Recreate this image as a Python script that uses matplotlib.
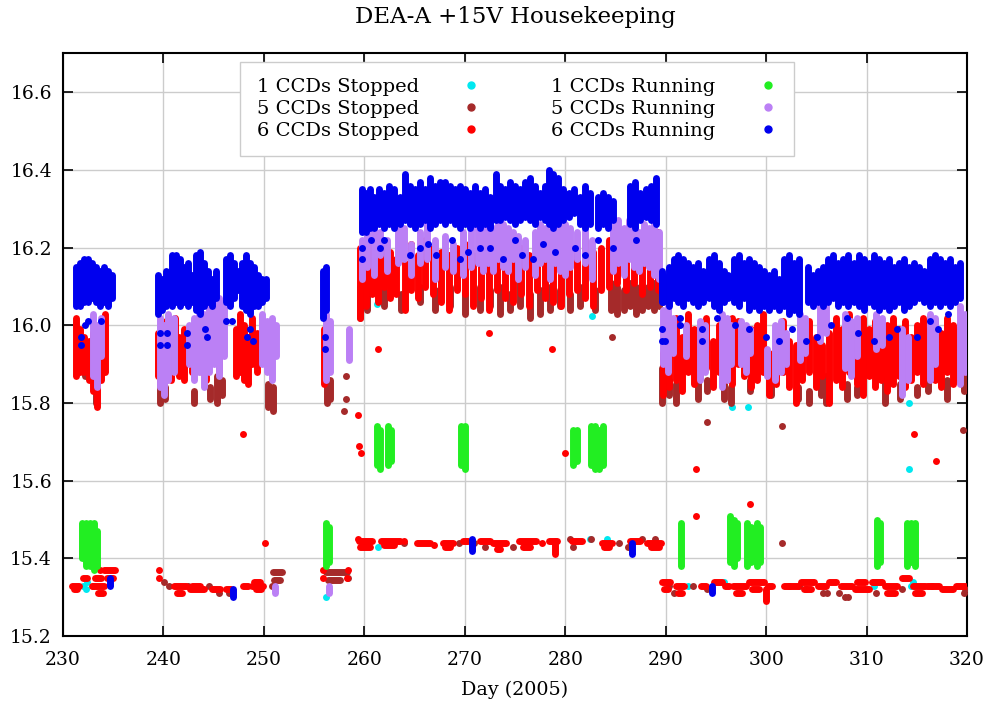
import matplotlib
matplotlib.use("Agg")
import matplotlib.pyplot as plt
from matplotlib.lines import Line2D

# ---- data ----
# cols = vertical runs of dots (day, low, high), runs = horizontal runs (day0, day1, value), dots = single points (day, value)

cyan_dots = [(232.0, 15.33), (232.3, 15.32), (232.4, 15.34), (256.2, 15.30), (261.3, 16.055), (261.4, 15.43),
             (282.5, 15.45), (284.2, 15.45), (282.7, 16.025), (291.6, 15.91), (296.6, 15.79), (298.2, 15.79),
             (314.2, 15.80), (314.2, 15.63), (292.2, 15.33), (295.8, 15.34), (310.7, 15.33), (314.4, 15.33),
             (314.6, 15.34)]

brown_cols = [(232.2, 15.87, 15.89), (233.3, 15.80, 15.84),
              (239.7, 15.80, 15.86), (240.2, 15.81, 15.84), (243.0, 15.80, 15.83), (244.6, 15.81, 15.84),
              (245.3, 15.80, 15.87), (245.8, 15.82, 15.86), (250.4, 15.79, 15.85), (250.9, 15.78, 15.84),
              (256.3, 15.80, 15.85), (256.6, 15.81, 15.86),
              (259.6, 16.02, 16.10), (260.3, 16.04, 16.08), (262.0, 16.05, 16.09), (263.6, 16.04, 16.08),
              (265.5, 16.06, 16.10), (267.0, 16.04, 16.09), (268.5, 16.05, 16.10), (270.0, 16.03, 16.08),
              (271.5, 16.04, 16.10), (272.5, 16.05, 16.09), (273.5, 16.03, 16.10), (274.5, 16.04, 16.08),
              (275.5, 16.05, 16.11), (276.5, 16.02, 16.08), (277.5, 16.03, 16.09), (278.5, 16.04, 16.10),
              (279.5, 16.05, 16.09), (280.5, 16.04, 16.08), (281.5, 16.05, 16.10), (283.0, 16.04, 16.09),
              (284.6, 16.04, 16.11), (285.2, 16.03, 16.10), (285.8, 16.04, 16.09), (286.4, 16.05, 16.11),
              (287.0, 16.03, 16.10), (287.6, 16.04, 16.09), (288.2, 16.05, 16.10), (288.8, 16.04, 16.11),
              (289.3, 16.05, 16.09),
              (289.6, 15.80, 15.89), (290.3, 15.82, 15.86), (291.0, 15.80, 15.85), (293.2, 15.81, 15.88),
              (294.1, 15.83, 15.86), (295.8, 15.81, 15.87), (296.5, 15.80, 15.84), (298.4, 15.83, 15.86),
              (300.5, 15.82, 15.85), (303.2, 15.81, 15.84), (304.3, 15.80, 15.83), (305.5, 15.82, 15.86),
              (306.0, 15.80, 15.87), (308.1, 15.81, 15.85), (309.0, 15.82, 15.84), (311.8, 15.80, 15.86),
              (313.3, 15.81, 15.85), (315.0, 15.82, 15.84), (316.1, 15.83, 15.88), (318.0, 15.81, 15.86),
              (319.7, 15.83, 15.88)]
brown_runs = [(250.9, 251.8, 15.365), (251.0, 251.6, 15.345), (256.2, 258.3, 15.365), (256.4, 257.6, 15.345)]
brown_dots = [(233.0, 15.33), (240.1, 15.34), (240.6, 15.33), (242.4, 15.33), (244.5, 15.33), (245.5, 15.31),
              (246.5, 15.31), (250.8, 15.33), (258.4, 15.35), (258.2, 15.87), (258.2, 15.81), (258.0, 15.78),
              (284.7, 15.97), (269.4, 15.44), (272.0, 15.43), (274.8, 15.43), (276.1, 15.44), (280.5, 15.45),
              (280.8, 15.43), (282.6, 15.45), (285.4, 15.44), (286.2, 15.43), (287.6, 15.45), (288.9, 15.45),
              (270.9, 15.44), (263.9, 15.44), (294.1, 15.75), (301.6, 15.74), (319.6, 15.73), (301.6, 15.44),
              (290.3, 15.33), (290.8, 15.31), (292.7, 15.33), (294.1, 15.32), (302.3, 15.33), (303.3, 15.33),
              (304.0, 15.32), (305.7, 15.31), (306.1, 15.31), (307.3, 15.31), (307.9, 15.30), (308.2, 15.30),
              (310.9, 15.31), (313.5, 15.32), (316.5, 15.33), (319.7, 15.31), (319.8, 15.32)]

red_cols = [(231.3, 15.87, 16.02), (231.7, 15.88, 15.99), (232.1, 15.88, 15.97), (232.6, 15.86, 15.96),
            (233.0, 15.83, 15.98), (233.4, 15.79, 15.95), (233.8, 15.86, 16.00), (234.2, 15.88, 16.03),
            (239.5, 15.87, 15.98), (239.9, 15.85, 16.00), (240.3, 15.88, 16.01), (240.7, 15.86, 15.96),
            (241.1, 15.89, 16.02), (241.5, 15.87, 15.97), (242.0, 15.86, 15.99), (242.8, 15.88, 15.98),
            (243.3, 15.90, 16.01), (243.8, 15.88, 16.00), (244.2, 15.86, 15.96), (244.6, 15.90, 15.98),
            (245.5, 15.88, 15.95), (247.2, 15.87, 15.99), (247.6, 15.88, 16.03), (248.0, 15.86, 16.00),
            (248.4, 15.85, 15.97), (248.8, 15.90, 16.02), (249.3, 15.88, 15.98), (249.8, 15.92, 15.96),
            (256.0, 15.85, 15.99),
            (259.6, 16.02, 16.20), (260.2, 16.05, 16.18), (260.8, 16.08, 16.22), (261.4, 16.06, 16.17),
            (262.0, 16.10, 16.20), (262.6, 16.07, 16.19), (263.2, 16.08, 16.17), (264.0, 16.04, 16.16),
            (264.6, 16.09, 16.21), (265.3, 16.07, 16.18), (266.0, 16.10, 16.22), (266.8, 16.08, 16.20),
            (267.6, 16.06, 16.19), (268.4, 16.04, 16.18), (269.2, 16.09, 16.20), (270.0, 16.08, 16.21),
            (270.8, 16.05, 16.18), (271.6, 16.07, 16.22), (272.4, 16.04, 16.20), (273.2, 16.09, 16.21),
            (274.0, 16.07, 16.19), (274.8, 16.06, 16.22), (275.6, 16.08, 16.20), (276.4, 16.05, 16.18),
            (277.2, 16.09, 16.21), (278.0, 16.07, 16.20), (278.8, 16.06, 16.22), (279.6, 16.05, 16.19),
            (280.4, 16.08, 16.21), (281.2, 16.09, 16.20), (282.0, 16.07, 16.22), (282.8, 16.05, 16.19),
            (283.6, 16.09, 16.20), (284.4, 16.10, 16.22), (285.2, 16.11, 16.19), (286.0, 16.09, 16.21),
            (286.8, 16.11, 16.23), (287.6, 16.08, 16.20), (288.4, 16.10, 16.22), (289.2, 16.09, 16.24),
            (289.7, 15.82, 15.93), (290.3, 15.84, 15.95), (291.0, 15.86, 16.02), (291.6, 15.83, 15.97),
            (292.2, 15.88, 16.03), (292.8, 15.85, 15.99), (293.4, 15.87, 15.98), (294.0, 15.89, 16.02),
            (294.7, 15.84, 15.96), (295.3, 15.88, 16.00), (296.0, 15.86, 15.98), (296.6, 15.85, 16.02),
            (297.2, 15.90, 16.01), (297.8, 15.87, 15.97), (298.5, 15.84, 15.99), (299.1, 15.86, 16.00),
            (299.7, 15.88, 16.03), (300.3, 15.82, 15.93), (301.0, 15.85, 15.98), (301.7, 15.88, 16.01),
            (302.3, 15.84, 15.96), (303.0, 15.80, 15.95), (303.6, 15.86, 15.99), (304.3, 15.88, 16.01),
            (305.0, 15.84, 15.97), (305.6, 15.87, 15.95), (306.3, 15.80, 15.98), (307.0, 15.86, 16.02),
            (307.6, 15.84, 15.99), (308.3, 15.88, 16.03), (309.0, 15.85, 16.00), (309.6, 15.82, 16.02),
            (310.2, 15.87, 15.99), (310.8, 15.84, 16.01), (311.4, 15.86, 15.98), (312.0, 15.83, 16.00),
            (312.6, 15.85, 16.02), (313.2, 15.87, 15.99), (313.8, 15.84, 16.01), (314.4, 15.86, 15.97),
            (315.0, 15.88, 16.00), (315.6, 15.85, 16.02), (316.2, 15.87, 15.99), (316.8, 15.86, 16.01),
            (317.4, 15.84, 15.98), (318.0, 15.88, 16.02), (318.6, 15.85, 16.00), (319.2, 15.86, 15.99),
            (319.8, 15.88, 15.97), (279.0, 15.41, 15.445), (300.0, 15.29, 15.32)]
red_runs = [(230.9, 231.6, 15.33), (231.1, 231.4, 15.32), (232.0, 232.4, 15.35), (232.9, 234.1, 15.33),
            (233.2, 233.8, 15.35), (233.5, 234.0, 15.31), (234.1, 235.2, 15.37), (234.4, 235.0, 15.35),
            (241.0, 242.2, 15.33), (241.3, 241.8, 15.31), (242.6, 244.0, 15.32), (242.8, 243.6, 15.33),
            (244.8, 245.6, 15.32), (246.2, 246.7, 15.32), (247.9, 248.4, 15.33), (248.8, 249.9, 15.33),
            (249.0, 249.6, 15.34), (249.2, 249.7, 15.32),
            (259.5, 260.8, 15.445), (259.6, 260.6, 15.43), (261.7, 263.5, 15.445), (262.0, 263.0, 15.435),
            (265.2, 266.5, 15.44), (267.8, 268.8, 15.44), (268.0, 268.5, 15.43), (269.8, 270.3, 15.445),
            (271.5, 272.5, 15.445), (272.8, 274.1, 15.44), (273.2, 273.5, 15.425), (275.4, 277.1, 15.445),
            (275.8, 276.5, 15.43), (278.4, 279.2, 15.445), (280.7, 281.7, 15.445), (283.7, 284.7, 15.44),
            (283.9, 284.4, 15.43), (286.4, 287.4, 15.445), (288.1, 289.5, 15.44), (288.5, 289.3, 15.43),
            (289.6, 290.4, 15.34), (289.8, 290.2, 15.32), (291.0, 291.8, 15.33), (291.2, 291.6, 15.31),
            (293.5, 294.0, 15.33), (294.8, 295.6, 15.34), (295.9, 296.3, 15.33), (296.7, 298.0, 15.33),
            (297.0, 297.6, 15.31), (298.3, 299.8, 15.34), (298.6, 299.3, 15.32), (300.2, 300.6, 15.33),
            (301.8, 303.2, 15.33), (303.5, 304.8, 15.34), (303.8, 304.5, 15.32), (305.2, 306.0, 15.33),
            (306.3, 307.0, 15.34), (307.5, 308.5, 15.33), (308.8, 310.2, 15.32), (309.0, 309.8, 15.34),
            (310.5, 311.5, 15.34), (311.8, 313.0, 15.33), (312.0, 312.8, 15.31), (313.5, 314.2, 15.35),
            (314.6, 315.8, 15.33), (314.8, 315.5, 15.31), (316.0, 317.2, 15.33), (317.5, 318.6, 15.32),
            (318.9, 319.8, 15.33)]
red_dots = [(233.7, 15.37), (239.6, 15.37), (239.6, 15.35), (247.9, 15.72), (250.1, 15.44), (255.9, 15.37),
            (255.9, 15.35), (258.4, 15.37), (258.3, 15.35), (259.4, 15.45), (259.4, 15.77), (259.5, 15.69),
            (259.7, 15.67), (261.4, 15.94), (272.4, 15.98), (278.7, 15.94), (280.0, 15.67), (263.9, 15.445),
            (266.9, 15.435), (277.7, 15.44), (293.0, 15.63), (314.7, 15.72), (316.9, 15.65), (293.0, 15.51),
            (298.4, 15.54)]

green_cols = [(231.9, 15.40, 15.49), (232.3, 15.38, 15.49), (232.7, 15.38, 15.49), (233.1, 15.37, 15.49),
              (233.4, 15.38, 15.47), (256.2, 15.38, 15.49), (256.5, 15.39, 15.48),
              (261.3, 15.64, 15.74), (261.6, 15.63, 15.73), (262.4, 15.64, 15.74), (262.7, 15.65, 15.73),
              (269.6, 15.64, 15.74), (270.0, 15.63, 15.74), (280.8, 15.64, 15.73), (281.2, 15.65, 15.73),
              (282.6, 15.64, 15.74), (283.0, 15.63, 15.74), (283.4, 15.63, 15.73), (283.8, 15.64, 15.74),
              (291.5, 15.38, 15.49), (296.4, 15.39, 15.51), (296.8, 15.38, 15.50), (297.1, 15.40, 15.49),
              (298.1, 15.38, 15.49), (298.5, 15.39, 15.48), (299.1, 15.38, 15.49), (299.4, 15.39, 15.48),
              (311.0, 15.38, 15.50), (311.3, 15.39, 15.49), (314.0, 15.38, 15.49), (314.4, 15.39, 15.49),
              (314.8, 15.38, 15.49)]

purple_cols = [(233.0, 15.87, 16.03), (233.4, 15.84, 16.00), (233.8, 15.92, 16.02),
               (239.7, 15.84, 16.02), (240.1, 15.82, 16.00), (240.5, 15.86, 16.03), (241.0, 15.88, 16.02),
               (242.5, 15.90, 16.00), (243.0, 15.86, 16.02), (243.5, 15.88, 16.04), (244.0, 15.84, 16.03),
               (244.5, 15.88, 16.05), (245.0, 15.90, 16.06), (245.5, 15.87, 16.07), (246.0, 15.92, 16.05),
               (249.8, 15.90, 16.03), (250.3, 15.88, 16.01), (250.8, 15.86, 16.02), (251.2, 15.92, 16.00),
               (256.2, 15.86, 16.03), (256.6, 15.88, 16.01), (258.5, 15.91, 15.99), (256.5, 15.31, 15.33),
               (251.1, 15.31, 15.33),
               (259.8, 16.12, 16.22), (260.3, 16.15, 16.24), (261.0, 16.13, 16.25), (261.6, 16.18, 16.24),
               (262.3, 16.14, 16.22), (263.3, 16.16, 16.26), (263.9, 16.17, 16.25), (264.6, 16.13, 16.21),
               (265.5, 16.16, 16.24), (266.2, 16.17, 16.27), (267.0, 16.12, 16.22), (268.0, 16.15, 16.23),
               (268.8, 16.14, 16.21), (269.8, 16.13, 16.24), (270.6, 16.15, 16.26), (271.3, 16.16, 16.25),
               (271.8, 16.14, 16.27), (272.3, 16.16, 16.26), (272.8, 16.14, 16.25), (273.3, 16.17, 16.27),
               (273.8, 16.15, 16.26), (274.3, 16.14, 16.25), (274.8, 16.17, 16.24), (275.3, 16.12, 16.23),
               (276.0, 16.15, 16.22), (277.0, 16.13, 16.24), (277.5, 16.16, 16.26), (278.0, 16.17, 16.25),
               (278.5, 16.12, 16.26), (279.0, 16.16, 16.24), (279.5, 16.14, 16.27), (280.0, 16.13, 16.26),
               (280.5, 16.15, 16.25), (281.2, 16.17, 16.24), (282.0, 16.16, 16.26), (282.7, 16.12, 16.22),
               (284.8, 16.14, 16.26), (285.3, 16.16, 16.27), (285.8, 16.13, 16.25), (286.3, 16.17, 16.27),
               (286.8, 16.15, 16.26), (287.3, 16.14, 16.24), (287.8, 16.16, 16.26), (288.3, 16.15, 16.25),
               (288.8, 16.13, 16.27), (289.3, 16.12, 16.24),
               (289.7, 15.90, 16.04), (290.2, 15.88, 16.05), (290.7, 15.93, 16.02), (292.0, 15.92, 16.00),
               (293.4, 15.86, 16.01), (293.9, 15.88, 16.00), (295.6, 15.84, 16.03), (296.1, 15.86, 16.02),
               (296.5, 15.90, 16.00), (297.5, 15.90, 16.01), (298.0, 15.88, 16.00), (298.4, 15.93, 15.99),
               (300.1, 15.87, 15.94), (300.9, 15.86, 16.00), (301.5, 15.88, 16.01), (302.0, 15.90, 15.98),
               (303.4, 15.91, 16.03), (303.9, 15.93, 16.02), (305.4, 15.96, 16.06), (306.0, 15.98, 16.05),
               (307.9, 15.89, 16.03), (308.4, 15.87, 16.01), (309.0, 15.92, 16.02), (310.9, 15.94, 16.03),
               (311.5, 15.95, 16.02), (313.5, 15.82, 15.99), (314.1, 15.86, 15.97), (316.3, 15.86, 16.03),
               (316.8, 15.90, 16.02), (319.3, 15.85, 16.05), (319.8, 15.88, 16.03)]

blue_cols = [(231.3, 16.05, 16.15), (231.7, 16.05, 16.16), (232.1, 16.06, 16.17), (232.5, 16.06, 16.17),
             (232.9, 16.07, 16.16), (233.3, 16.06, 16.15), (233.7, 16.05, 16.14), (234.1, 16.06, 16.15),
             (234.5, 16.05, 16.14), (234.9, 16.07, 16.13),
             (239.5, 16.03, 16.13), (239.9, 16.04, 16.12), (240.3, 16.05, 16.14), (240.8, 16.05, 16.18),
             (241.2, 16.06, 16.18), (241.6, 16.05, 16.17), (242.0, 16.06, 16.15), (242.4, 16.05, 16.16),
             (242.8, 16.06, 16.13), (243.2, 16.04, 16.18), (243.6, 16.03, 16.19), (244.0, 16.05, 16.16),
             (244.4, 16.06, 16.14), (244.8, 16.05, 16.12), (245.2, 16.07, 16.14), (246.2, 16.06, 16.17),
             (246.6, 16.05, 16.18), (247.0, 16.07, 16.16), (247.4, 16.09, 16.14), (247.8, 16.05, 16.16),
             (248.2, 16.04, 16.18), (248.6, 16.03, 16.16), (249.0, 16.05, 16.15), (249.4, 16.05, 16.13),
             (249.8, 16.06, 16.12), (250.2, 16.07, 16.12),
             (255.9, 16.02, 16.14), (256.2, 16.04, 16.15),
             (259.8, 16.24, 16.35), (260.2, 16.24, 16.34), (260.6, 16.25, 16.35), (261.0, 16.25, 16.33),
             (261.5, 16.26, 16.35), (262.0, 16.25, 16.34), (262.5, 16.26, 16.36), (263.0, 16.25, 16.35),
             (263.5, 16.26, 16.33), (264.0, 16.27, 16.39), (264.5, 16.26, 16.36), (265.0, 16.25, 16.35),
             (265.5, 16.26, 16.37), (266.0, 16.27, 16.35), (266.5, 16.25, 16.38), (267.0, 16.26, 16.36),
             (267.5, 16.27, 16.37), (268.0, 16.26, 16.37), (268.5, 16.27, 16.36), (269.0, 16.26, 16.35),
             (269.5, 16.25, 16.36), (270.0, 16.26, 16.35), (270.5, 16.25, 16.34), (271.0, 16.26, 16.36),
             (271.5, 16.25, 16.34), (272.0, 16.26, 16.35), (272.5, 16.25, 16.33), (273.1, 16.27, 16.39),
             (273.5, 16.27, 16.36), (274.0, 16.28, 16.35), (274.5, 16.27, 16.37), (275.0, 16.26, 16.36),
             (275.5, 16.27, 16.35), (276.0, 16.28, 16.37), (276.5, 16.27, 16.38), (277.0, 16.26, 16.36),
             (277.5, 16.28, 16.34), (278.0, 16.27, 16.36), (278.4, 16.26, 16.40), (278.8, 16.25, 16.39),
             (279.3, 16.26, 16.38), (279.8, 16.27, 16.35), (280.4, 16.28, 16.34), (280.9, 16.29, 16.35),
             (281.5, 16.26, 16.33), (282.0, 16.25, 16.36), (282.5, 16.26, 16.34), (283.3, 16.25, 16.33),
             (283.8, 16.26, 16.34), (284.3, 16.25, 16.33), (284.8, 16.27, 16.32), (286.4, 16.26, 16.36),
             (286.9, 16.25, 16.37), (287.4, 16.27, 16.34), (288.0, 16.28, 16.35), (288.5, 16.27, 16.36),
             (289.0, 16.26, 16.38), (289.6, 16.06, 16.14),
             (289.7, 16.06, 16.13), (290.3, 16.05, 16.15), (290.8, 16.07, 16.17), (291.2, 16.06, 16.18),
             (291.7, 16.05, 16.17), (292.2, 16.07, 16.16), (292.7, 16.06, 16.15), (293.2, 16.05, 16.16),
             (293.7, 16.06, 16.14), (294.3, 16.07, 16.17), (294.8, 16.05, 16.18), (295.3, 16.04, 16.16),
             (295.8, 16.06, 16.14), (296.2, 16.07, 16.13), (296.8, 16.06, 16.17), (297.3, 16.05, 16.18),
             (297.8, 16.07, 16.16), (298.3, 16.04, 16.17), (298.8, 16.05, 16.16), (299.3, 16.04, 16.15),
             (299.8, 16.05, 16.14), (300.3, 16.04, 16.13), (300.8, 16.05, 16.14), (301.3, 16.04, 16.12),
             (301.8, 16.05, 16.17), (302.3, 16.03, 16.18), (302.8, 16.04, 16.16), (303.3, 16.03, 16.17),
             (304.2, 16.06, 16.15), (304.7, 16.05, 16.13), (305.2, 16.06, 16.14), (305.7, 16.05, 16.15),
             (306.2, 16.06, 16.17), (306.7, 16.07, 16.18), (307.2, 16.05, 16.16), (307.7, 16.06, 16.17),
             (308.2, 16.05, 16.18), (308.7, 16.06, 16.16), (309.2, 16.05, 16.18), (309.7, 16.04, 16.17),
             (310.2, 16.06, 16.16), (310.7, 16.05, 16.18), (311.2, 16.04, 16.17), (311.7, 16.05, 16.16),
             (312.2, 16.04, 16.17), (312.7, 16.05, 16.15), (313.2, 16.06, 16.16), (313.7, 16.04, 16.17),
             (314.2, 16.05, 16.15), (314.7, 16.06, 16.16), (315.2, 16.07, 16.15), (315.7, 16.06, 16.14),
             (316.3, 16.05, 16.17), (316.8, 16.06, 16.18), (317.3, 16.05, 16.17), (317.8, 16.06, 16.16),
             (318.3, 16.05, 16.17), (318.8, 16.06, 16.15), (319.3, 16.07, 16.16),
             (234.7, 15.33, 15.35), (246.9, 15.30, 15.32), (270.7, 15.42, 15.45), (286.6, 15.41, 15.44),
             (294.6, 15.31, 15.33)]
blue_dots = [(231.8, 15.95), (231.8, 15.97), (232.2, 16.00), (232.5, 16.01), (233.8, 16.01),
             (239.7, 15.95), (239.7, 15.98), (240.4, 15.98), (240.4, 15.95), (242.3, 15.98), (242.3, 15.95),
             (244.1, 15.99), (244.3, 15.97), (246.2, 16.01), (246.8, 16.01), (248.3, 15.97), (248.6, 15.99),
             (248.9, 15.96), (256.1, 15.97), (256.1, 15.94),
             (259.8, 16.17), (259.8, 16.20), (260.7, 16.22), (261.6, 16.20), (262.0, 16.22), (264.5, 16.18),
             (265.5, 16.20), (266.3, 16.21), (267.1, 16.18), (268.7, 16.22), (269.5, 16.17), (270.3, 16.19),
             (271.5, 16.20), (272.5, 16.20), (273.8, 16.17), (275.0, 16.22), (275.7, 16.18), (276.8, 16.17),
             (277.8, 16.21), (279.0, 16.19), (281.0, 16.20), (282.0, 16.18), (283.3, 16.22), (284.8, 16.20),
             (287.0, 16.22), (289.6, 15.99), (289.6, 15.96),
             (289.9, 15.96), (291.4, 16.02), (291.4, 16.00), (293.6, 15.96), (293.6, 15.99), (295.1, 16.02),
             (296.9, 16.00), (298.3, 15.99), (300.0, 15.97), (301.3, 15.96), (302.6, 15.99), (304.0, 15.96),
             (305.1, 15.97), (306.5, 16.00), (308.1, 16.02), (309.1, 15.98), (310.7, 15.96), (312.2, 15.97),
             (313.0, 15.99), (315.0, 15.97), (316.3, 16.01), (317.1, 15.99), (318.1, 16.03)]

labels = ["1 CCDs Stopped", "5 CCDs Stopped", "6 CCDs Stopped",
          "1 CCDs Running", "5 CCDs Running", "6 CCDs Running"]
colors = ["#00e8f0", "#a52a2a", "#ff0000", "#22ee22", "#bb80f5", "#0000ee"]

plt.rcParams["font.family"] = ["DejaVu Serif"]

fig = plt.figure(figsize=(9.91, 7.03), dpi=100)
ax = fig.add_axes([0.0636, 0.0953, 0.9122, 0.8286])

LW = 5.0  # dot diameter in points


def draw(color, cols=(), runs=(), dots=()):
    if cols:
        lc = ax.vlines([c[0] for c in cols], [c[1] for c in cols], [c[2] for c in cols],
                       colors=color, lw=LW, zorder=3)
        lc.set_capstyle("round")
    if runs:
        lc = ax.hlines([r[2] for r in runs], [r[0] for r in runs], [r[1] for r in runs],
                       colors=color, lw=LW, zorder=3)
        lc.set_capstyle("round")
    if dots:
        ax.scatter([d[0] for d in dots], [d[1] for d in dots], s=LW ** 2, c=color,
                   linewidths=0, zorder=3)


draw(colors[0], dots=cyan_dots)
draw(colors[1], cols=brown_cols, runs=brown_runs, dots=brown_dots)
draw(colors[2], cols=red_cols, runs=red_runs, dots=red_dots)
draw(colors[3], cols=green_cols)
draw(colors[4], cols=purple_cols)
draw(colors[5], cols=blue_cols, dots=blue_dots)

ax.set_xlim(230, 320)
ax.set_ylim(15.2, 16.7)
ax.set_xticks(range(230, 321, 10))
ax.set_yticks([15.2, 15.4, 15.6, 15.8, 16.0, 16.2, 16.4, 16.6])
ax.grid(True, color="#cccccc", lw=1)
ax.set_axisbelow(True)
ax.tick_params(direction="in", length=7, width=1.2, top=True, right=True, labelsize=13.5)
ax.tick_params(axis="x", pad=11)
ax.tick_params(axis="y", pad=8)
for s in ax.spines.values():
    s.set_linewidth(1.5)

ax.set_xlabel("Day (2005)", fontsize=13.8, labelpad=8)
ax.set_title("DEA-A +15V Housekeeping", fontsize=16.5, pad=22)

handles = [Line2D([], [], ls="none", marker="o", ms=5, mfc=c, mec=c) for c in colors]
ax.legend(handles, labels, ncol=2, loc="upper left", bbox_to_anchor=(0.196, 0.986),
          markerfirst=False, fontsize=14, frameon=True, fancybox=False, edgecolor="#cccccc",
          framealpha=1, labelspacing=0.2, columnspacing=3.6, handlelength=1.0, handletextpad=2.2,
          borderpad=0.85, borderaxespad=0)

fig.savefig("out.png", dpi=100)
